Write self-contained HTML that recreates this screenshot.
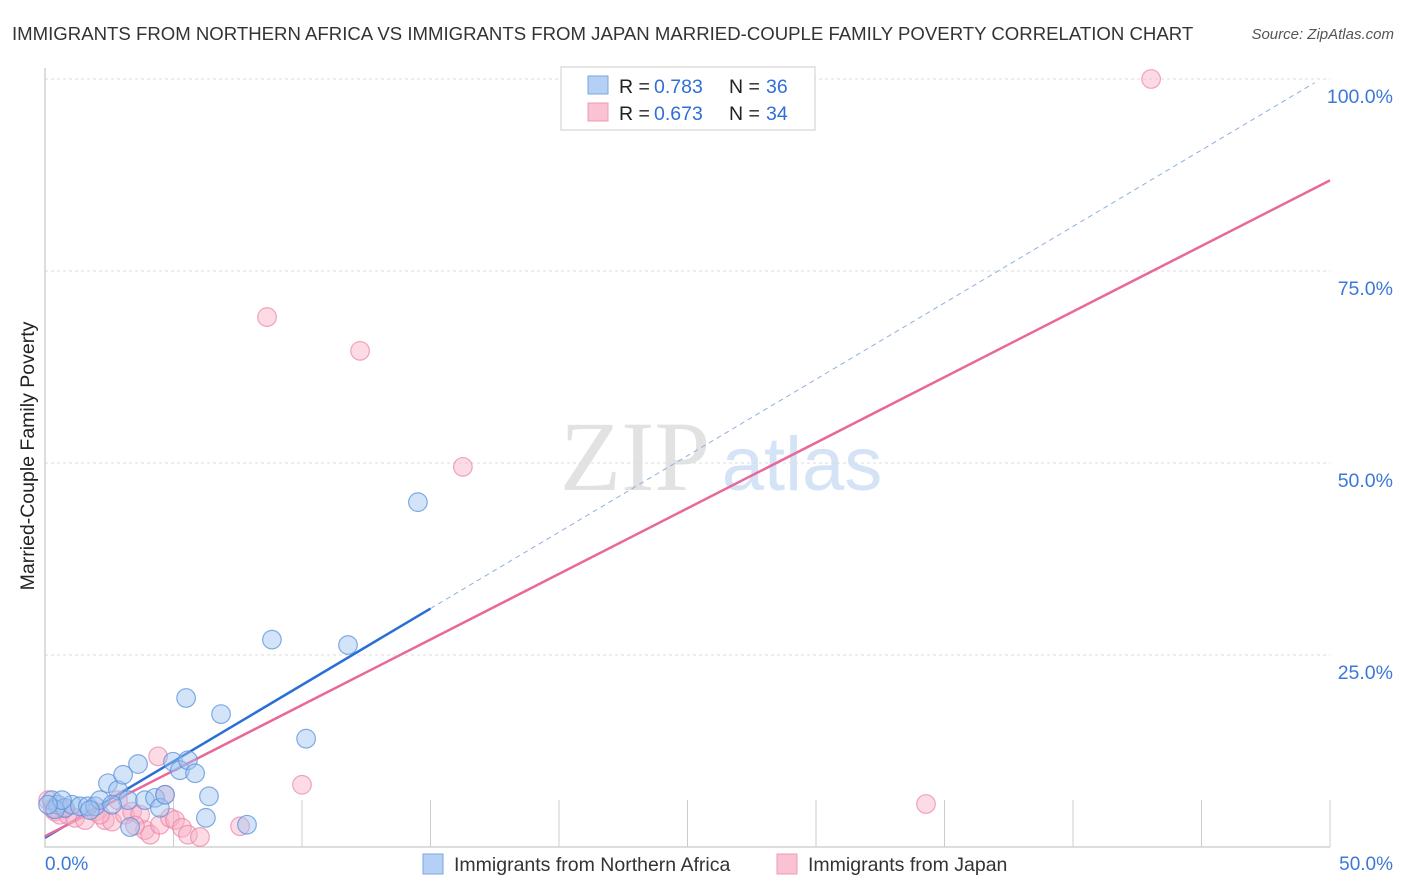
<!DOCTYPE html>
<html><head><meta charset="utf-8"><style>
body{margin:0;background:#fff;font-family:"Liberation Sans",sans-serif}
svg{display:block}
</style></head><body>
<svg id="c" width="1406" height="892" xmlns="http://www.w3.org/2000/svg">
<text x="12" y="40" font-size="18.6" fill="#333">IMMIGRANTS FROM NORTHERN AFRICA VS IMMIGRANTS FROM JAPAN MARRIED-COUPLE FAMILY POVERTY CORRELATION CHART</text>
<text x="1394" y="39" font-size="15" fill="#555" font-style="italic" text-anchor="end">Source: ZipAtlas.com</text>
<text x="34" y="456" font-size="19.5" fill="#222" text-anchor="middle" transform="rotate(-90 34 456)">Married-Couple Family Poverty</text>
<g><text x="635" y="490" font-size="100" fill="#e2e2e2" font-family="Liberation Serif,serif" text-anchor="middle">ZIP</text><text x="802" y="490" font-size="76" fill="#d4e3f5" text-anchor="middle">atlas</text></g>
<g id="grid"></g><g id="axes"></g><g id="lines"></g><g id="pts"></g>
<g>
<rect x="561" y="67" width="254" height="63" fill="#fff" stroke="#ccc"/>
<rect x="588" y="76" width="20" height="18" fill="#b5d0f5" stroke="#7aa6e0"/>
<rect x="588" y="103" width="20" height="18" fill="#f9c3d3" stroke="#f09ab5"/>
<text x="619" y="93" font-size="19.5" fill="#222">R =</text><text x="654" y="93" font-size="19.5" fill="#2f6fd6">0.783</text>
<text x="729" y="93" font-size="19.5" fill="#222">N =</text><text x="766" y="93" font-size="19.5" fill="#2f6fd6">36</text>
<text x="619" y="120" font-size="19.5" fill="#222">R =</text><text x="654" y="120" font-size="19.5" fill="#2f6fd6">0.673</text>
<text x="729" y="120" font-size="19.5" fill="#222">N =</text><text x="766" y="120" font-size="19.5" fill="#2f6fd6">34</text>
</g>
<g>
<rect x="423" y="854" width="20" height="20" fill="#b5d0f5" stroke="#7aa6e0"/>
<text x="454" y="871" font-size="19.5" fill="#333">Immigrants from Northern Africa</text>
<rect x="777" y="854" width="20" height="20" fill="#f9c3d3" stroke="#f09ab5"/>
<text x="808" y="871" font-size="19.5" fill="#333">Immigrants from Japan</text>
</g>
</svg>
<script>
const yTicks=[25,50,75,100];
const yTickLabels=["25.0%","50.0%","75.0%","100.0%"];
const blueX=[0.27,0.5,0.78,1.05,1.36,1.67,1.95,2.14,2.45,2.84,3.04,3.23,3.31,3.62,3.89,4.28,4.47,4.67,4.98,5.25,5.49,5.56,5.84,6.26,6.38,6.85,7.86,8.83,10.16,11.79,14.51,0.39,0.66,0.12,1.75,2.61];
const blueY=[6.1,5.5,5.1,5.5,5.3,5.3,5.3,6.1,8.3,7.4,9.4,6.1,2.6,10.8,6.1,6.4,5.1,6.8,11.1,10.0,19.4,11.3,9.6,3.8,6.6,17.3,2.9,27.0,14.1,26.3,44.9,4.9,6.1,5.5,4.8,5.5];
const pinkX=[0.12,0.39,0.58,0.89,1.17,1.56,1.95,2.33,2.61,2.84,3.11,3.39,3.7,3.89,4.09,4.4,4.47,4.67,4.86,5.06,5.33,5.56,6.03,7.59,8.64,10.0,12.26,16.26,34.28,43.04,0.3,0.75,2.14,3.5];
const pinkY=[6.1,4.6,4.2,4.2,3.8,3.5,4.6,3.5,3.3,6.1,4.2,4.6,4.2,2.2,1.6,11.8,2.9,6.8,3.8,3.5,2.5,1.6,1.3,2.7,69.0,8.1,64.6,49.5,5.6,100,5.0,5.0,4.2,2.8];
const blueFit=[1.2,1.99], pinkFit=[1.4,1.708];
const X=v=>45+v*25.7, Y=v=>847-v*7.68;
const NS="http://www.w3.org/2000/svg";
function mk(p,t,a){const e=document.createElementNS(NS,t);for(const k in a)e.setAttribute(k,a[k]);document.getElementById(p).appendChild(e);return e;}
yTicks.forEach((t,i)=>{
 const g=mk('grid','line',{x1:45,x2:1330,y1:Y(t),y2:Y(t),stroke:'#ddd','stroke-dasharray':'3,3'});
 
 
 const l=mk('grid','text',{x:1393,y:Y(t)+24,'font-size':19.5,fill:'#3c78d8','text-anchor':'end'});
 l.textContent=yTickLabels[i];
 
 
});
const ax=mk('axes','path',{d:'M45 68V847H1330',stroke:'#bbb',fill:'none'});


for(let i=1;i<=10;i++){const t=mk('axes','line',{x1:45+i*128.5,x2:45+i*128.5,y1:847,y2:800,stroke:'#ccc'});
 
 }
[["0.0%",45,'start'],["50.0%",1393,'end']].forEach(d=>{const t=mk('axes','text',{x:d[1],y:870,'font-size':19,fill:'#3c78d8','text-anchor':d[2]});t.textContent=d[0];
 
 });
function pts(xs,ys,fill,stroke,name){xs.forEach((x,i)=>{const c=mk('pts','circle',{cx:X(x),cy:Y(ys[i]),r:9.3,fill:fill,stroke:stroke,'stroke-width':1.2});
 
 });}
pts(pinkX,pinkY,'rgba(248,175,198,0.45)','rgba(235,130,165,0.7)','point-japan');
pts(blueX,blueY,'rgba(160,195,240,0.45)','rgba(90,145,220,0.75)','point-northern-africa');
const f=(fit,x)=>fit[0]+fit[1]*x;
let l1=mk('lines','line',{x1:X(0),y1:Y(f(blueFit,0)),x2:X(15),y2:Y(f(blueFit,15)),stroke:'#2a6fd6','stroke-width':2.5});


let l2=mk('lines','line',{x1:X(15),y1:Y(f(blueFit,15)),x2:X(49.4),y2:Y(f(blueFit,49.4)),stroke:'#8fb0dd','stroke-width':1,'stroke-dasharray':'5,4'});


let l3=mk('lines','line',{x1:X(0),y1:Y(f(pinkFit,0)),x2:X(50),y2:Y(f(pinkFit,50)),stroke:'#e8689a','stroke-width':2.5});


</script>
</body></html>
